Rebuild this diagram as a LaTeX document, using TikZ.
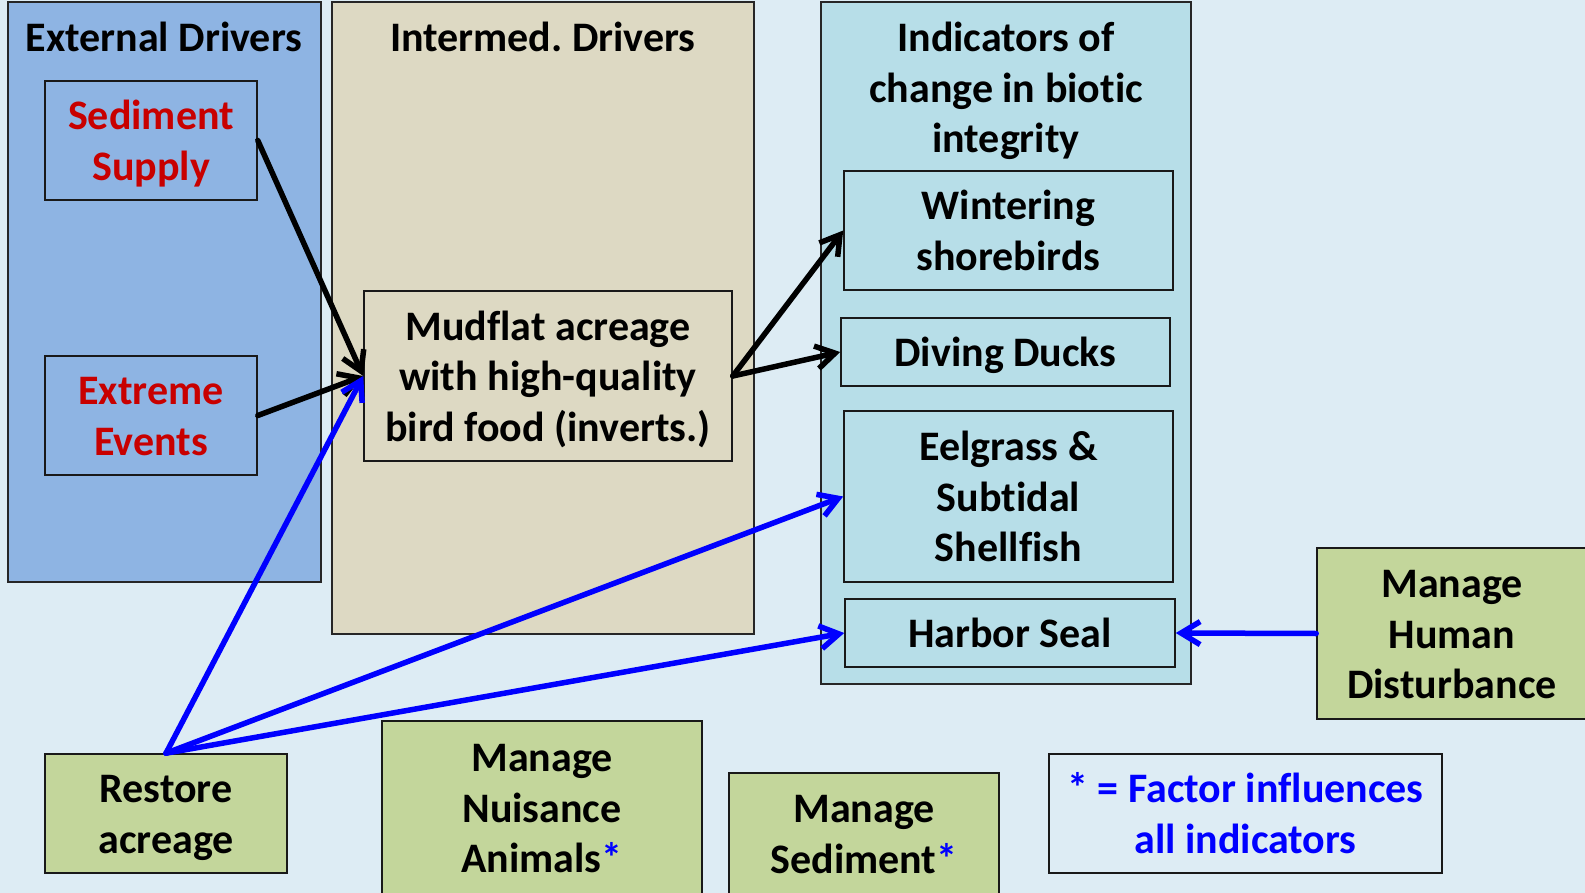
\documentclass[tikz,border=0pt]{standalone}
\usepackage{fontspec}
\setmainfont{Carlito}[Ligatures=NoCommon]
\usetikzlibrary{arrows.meta}
\frenchspacing

\definecolor{bgblue}{RGB}{221,236,244}
\definecolor{extfill}{RGB}{142,180,227}
\definecolor{midfill}{RGB}{221,217,195}
\definecolor{indfill}{RGB}{183,222,232}
\definecolor{mgmtfill}{RGB}{195,214,155}
\definecolor{drvred}{RGB}{200,0,0}
\definecolor{mgmtblue}{RGB}{0,0,255}

\newcommand\diagfont{\bfseries\fontsize{42}{50.5}\selectfont}
% fixed first-line height and last-line depth, so every box centres its lines alike
\newcommand\boxlines[1]{\rule{0pt}{39pt}#1\rule[-10pt]{0pt}{10pt}}

\tikzset{
  panel/.style={draw=black!85, line width=1.6pt, inner sep=0pt},
  box/.style={draw=black!90, line width=1.6pt, inner sep=0pt, align=center, font=\diagfont},
  title/.style={align=center, font=\diagfont, inner sep=0pt},
  link/.style={line width=5.5pt, line cap=round,
    -{Straight Barb[length=19pt, width=23pt, line width=5.5pt]}},
  blacklink/.style={link, draw=black},
  bluelink/.style={link, draw=mgmtblue},
}

\begin{document}
\begin{tikzpicture}[x=1pt, y=-1pt]
  \useasboundingbox (0,0) rectangle (1585,893);
  \fill[bgblue] (0,0) rectangle (1585,893);

  % column panels
  \node[panel, fill=extfill, minimum width=313pt, minimum height=580pt] (extpanel) at (164.5,292) {};
  \node[panel, fill=midfill, minimum width=422pt, minimum height=632pt] (midpanel) at (543,318) {};
  \node[panel, fill=indfill, minimum width=370pt, minimum height=682pt] (indpanel) at (1006,343) {};

  \node[title] (exttitle) at (164,37) {External Drivers};
  \node[title] (midtitle) at (543,37) {Intermed. Drivers};
  \node[title] (indtitle) at (1006,91) {Indicators of\\change in biotic\\integrity};

  % external drivers
  \node[box, minimum width=212pt, minimum height=119pt, text=drvred] (sed) at (151,140.5) {\boxlines{Sediment\\Supply}};
  \node[box, minimum width=212pt, minimum height=119pt, text=drvred] (extev) at (151,415.5) {\boxlines{Extreme\\Events}};

  % intermediate driver
  \node[box, minimum width=368pt, minimum height=170pt] (mud) at (548,376) {\boxlines{Mudflat acreage\\with high-quality\\bird food (inverts.)}};

  % indicators
  \node[box, minimum width=329pt, minimum height=119pt] (wint) at (1008.5,230.5) {\boxlines{Wintering\\shorebirds}};
  \node[box, minimum width=329pt, minimum height=68pt] (ducks) at (1005.5,352) {\boxlines{Diving Ducks}};
  \node[box, minimum width=329pt, minimum height=171pt] (eel) at (1008.5,496.5) {\boxlines{Eelgrass \&\\Subtidal\\Shellfish}};
  \node[box, minimum width=330pt, minimum height=68pt] (seal) at (1010,633) {\boxlines{Harbor Seal}};

  % management actions
  \node[box, fill=mgmtfill, minimum width=270pt, minimum height=171pt] (human) at (1452,633.5) {\boxlines{Manage\\Human\\Disturbance}};
  \node[box, fill=mgmtfill, minimum width=242pt, minimum height=119pt] (restore) at (166,813.5) {\boxlines{Restore\\acreage}};
  \node[box, fill=mgmtfill, minimum width=320pt, minimum height=173pt] (nuis) at (542,807.5) {\boxlines{Manage\\Nuisance\\Animals{\color{mgmtblue}*}}};
  \node[box, fill=mgmtfill, minimum width=270pt, minimum height=121pt] (msed) at (864,833.5) {\boxlines{Manage\\Sediment{\color{mgmtblue}*}}};

  % legend
  \node[box, fill=bgblue, text=mgmtblue, minimum width=393pt, minimum height=119pt] (legend) at (1245.5,813.5) {\boxlines{* = Factor influences\\all indicators}};

  % driver links
  \draw[blacklink] (sed.east) -- (mud.west);
  \draw[blacklink] (extev.east) -- (mud.west);
  \draw[blacklink] (mud.east) -- (wint.west);
  \draw[blacklink] (mud.east) -- (ducks.west);

  % management links
  \draw[bluelink] (restore.north) -- (mud.west);
  \draw[bluelink] (restore.north) -- (eel.west);
  \draw[bluelink] (restore.north) -- (seal.west);
  \draw[bluelink] (human.west) -- (seal.east);
\end{tikzpicture}
\end{document}
